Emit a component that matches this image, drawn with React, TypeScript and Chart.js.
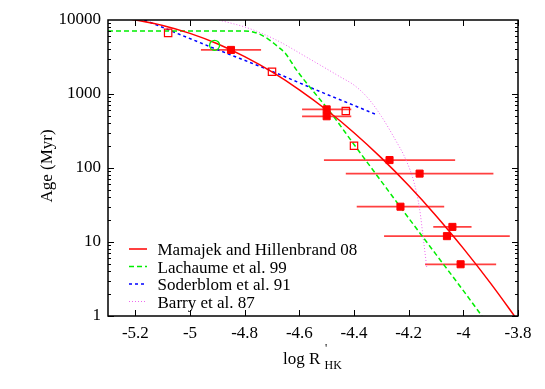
import React, { useEffect, useRef } from "react";
import { Chart, registerables } from "chart.js";

Chart.register(...registerables);

const FONT_FAMILY = '"Liberation Serif", "Times New Roman", Times, serif';

// Axis ticks
const xTickValues = [-5.2, -5.0, -4.8, -4.6, -4.4, -4.2, -4.0, -3.8];
const yTickValues = [1, 10, 100, 1000, 10000];

// Mamajek and Hillenbrand 08 relation
const mamajekLogR = [-5.3, -5.2, -5.1, -5.0, -4.9, -4.8, -4.7, -4.6, -4.5, -4.4, -4.3, -4.2, -4.1, -4.0, -3.9, -3.8];
const mamajekAge = [11500, 10000, 8440, 6600, 4780, 3200, 1990, 1140, 608, 300, 137, 58, 22.7, 8.2, 2.76, 0.86];

// Lachaume et al. 99
const lachaumeLogR = [-5.3, -4.8, -4.77, -4.74, -4.71, -4.68, -4.65, -4.61, -4.55, -4.49, -4.4, -4.3, -4.2, -4.1, -4.0, -3.932];
const lachaumeAge = [7100, 7100, 6900, 6300, 5400, 4400, 3500, 2100, 1100, 590, 208, 66, 21, 6.8, 2.2, 1];

// Soderblom et al. 91
const soderblomLogR = [-5.167, -4.894, -4.71, -4.527, -4.314];
const soderblomAge = [10000, 3900, 2100, 1090, 520];

// Barry et al. 87
const barryLogR = [-4.894, -4.784, -4.686, -4.564, -4.45, -4.40, -4.35, -4.30, -4.25, -4.21, -4.18, -4.16, -4.145, -4.134];
const barryAge = [10000, 7700, 5400, 3000, 1700, 1320, 890, 500, 245, 129, 63, 28, 10, 4.6];

// Filled squares with horizontal error bars
const filledLogR = [-4.85, -4.5, -4.5, -4.27, -4.16, -4.23, -4.04, -4.06, -4.01];
const filledAge = [3940, 620, 500, 128, 84, 30, 16, 12, 5];
const filledErr = [0.11, 0.09, 0.09, 0.24, 0.27, 0.16, 0.07, 0.23, 0.13];

// Open squares
const openLogR = [-5.08, -4.70, -4.43, -4.40];
const openAge = [6700, 2000, 590, 200];

// Open circle
const circleLogR = [-4.91];
const circleAge = [4550];

const legendLabels = ["Mamajek and Hillenbrand 08", "Lachaume et al. 99", "Soderblom et al. 91", "Barry et al. 87"];

const RED = "#ff0000";
const GREEN = "#00ee00";
const BLUE = "#0000ff";
const PINK = "#ee66ee";

const lineStyles = [
  { color: RED, dash: [] as number[], width: 1.5 },
  { color: GREEN, dash: [5, 3], width: 1.5 },
  { color: BLUE, dash: [3, 3], width: 1.5 },
  { color: PINK, dash: [1, 2], width: 1 },
];

const pts = (xs: number[], ys: number[]) => xs.map((x, i) => ({ x, y: ys[i] }));

export default function App() {
  const ref = useRef<HTMLCanvasElement>(null);

  useEffect(() => {
    document.body.style.margin = "0";
    const canvas = ref.current!;

    const errorBars = {
      id: "errorBars",
      beforeDatasetsDraw(chart: any) {
        const { ctx, chartArea, scales } = chart;
        ctx.save();
        ctx.beginPath();
        ctx.rect(chartArea.left, chartArea.top, chartArea.right - chartArea.left, chartArea.bottom - chartArea.top);
        ctx.clip();
        ctx.strokeStyle = "rgba(255,30,30,0.85)";
        ctx.lineWidth = 1.7;
        filledLogR.forEach((x, i) => {
          const y = scales.y.getPixelForValue(filledAge[i]);
          const x0 = scales.x.getPixelForValue(x - filledErr[i]);
          const x1 = scales.x.getPixelForValue(x + filledErr[i]);
          ctx.beginPath();
          ctx.moveTo(x0, y);
          ctx.lineTo(x1, y);
          ctx.stroke();
        });
        ctx.restore();
      },
    };

    const frame = {
      id: "frame",
      afterDatasetsDraw(chart: any) {
        const { ctx, chartArea, scales } = chart;
        const { left, right, top, bottom } = chartArea;
        ctx.save();
        ctx.strokeStyle = "#000";
        ctx.lineWidth = 1;
        ctx.beginPath();
        xTickValues.forEach((v) => {
          const px = Math.round(scales.x.getPixelForValue(v)) + 0.5;
          ctx.moveTo(px, bottom);
          ctx.lineTo(px, bottom - 6);
          ctx.moveTo(px, top);
          ctx.lineTo(px, top + 6);
        });
        for (let d = 1; d < 10000; d *= 10) {
          for (let m = 1; m <= 9; m++) {
            const v = d * m;
            const py = Math.round(scales.y.getPixelForValue(v)) + 0.5;
            const len = m === 1 ? 6 : 3;
            ctx.moveTo(left, py);
            ctx.lineTo(left + len, py);
            ctx.moveTo(right, py);
            ctx.lineTo(right - len, py);
          }
        }
        ctx.stroke();
        ctx.lineWidth = 1.5;
        ctx.strokeRect(left, top, right - left, bottom - top);
        ctx.restore();
      },
    };

    const overlay = {
      id: "overlay",
      afterDraw(chart: any) {
        const { ctx } = chart;
        ctx.save();
        // legend
        const rowY = [249, 266.5, 284, 301.5];
        legendLabels.forEach((label, i) => {
          const st = lineStyles[i];
          ctx.strokeStyle = st.color;
          ctx.lineWidth = st.width;
          ctx.setLineDash(st.dash);
          ctx.beginPath();
          ctx.moveTo(129, rowY[i]);
          ctx.lineTo(147, rowY[i]);
          ctx.stroke();
          ctx.setLineDash([]);
          ctx.fillStyle = "#000";
          ctx.font = `17px ${FONT_FAMILY}`;
          ctx.textAlign = "left";
          ctx.textBaseline = "alphabetic";
          ctx.fillText(label, 157.5, rowY[i] + 6);
        });
        // x axis title
        ctx.fillStyle = "#000";
        ctx.font = `17px ${FONT_FAMILY}`;
        ctx.textAlign = "left";
        ctx.textBaseline = "alphabetic";
        ctx.fillText("log R", 283, 363.5);
        ctx.font = `12px ${FONT_FAMILY}`;
        ctx.fillText("'", 325, 352);
        ctx.fillText("HK", 324.5, 368.5);
        // y axis title
        ctx.translate(48, 166);
        ctx.rotate(-Math.PI / 2);
        ctx.font = `17px ${FONT_FAMILY}`;
        ctx.textAlign = "center";
        ctx.textBaseline = "middle";
        ctx.fillText("Age (Myr)", 0, 0);
        ctx.restore();
      },
    };

    const lineDs = (label: string, xs: number[], ys: number[], st: any, order: number) => ({
      label,
      data: pts(xs, ys),
      showLine: true,
      borderColor: st.color,
      backgroundColor: st.color,
      borderWidth: st.width,
      borderDash: st.dash,
      pointRadius: 0,
      pointHoverRadius: 0,
      cubicInterpolationMode: "monotone",
      fill: false,
      order,
    });

    const chart = new Chart(canvas, {
      type: "scatter",
      data: {
        datasets: [
          {
            label: "filled",
            data: pts(filledLogR, filledAge),
            pointStyle: "rect",
            pointRadius: 5,
            backgroundColor: RED,
            borderColor: RED,
            borderWidth: 1,
            order: 0,
          },
          {
            label: "open",
            data: pts(openLogR, openAge),
            pointStyle: "rect",
            pointRadius: 5.2,
            backgroundColor: "rgba(255,255,255,0)",
            borderColor: RED,
            borderWidth: 1.2,
            order: 0,
          },
          {
            label: "circle",
            data: pts(circleLogR, circleAge),
            pointStyle: "circle",
            pointRadius: 5,
            backgroundColor: "rgba(255,255,255,0)",
            borderColor: GREEN,
            borderWidth: 1.3,
            order: 0,
          },
          lineDs(legendLabels[0], mamajekLogR, mamajekAge, lineStyles[0], 1),
          lineDs(legendLabels[1], lachaumeLogR, lachaumeAge, lineStyles[1], 2),
          lineDs(legendLabels[2], soderblomLogR, soderblomAge, lineStyles[2], 3),
          lineDs(legendLabels[3], barryLogR, barryAge, lineStyles[3], 4),
        ] as any,
      },
      options: {
        responsive: false,
        animation: false,
        devicePixelRatio: 1,
        layout: { padding: { left: 0, top: 20, right: 27, bottom: 0 } },
        plugins: { legend: { display: false }, tooltip: { enabled: false }, title: { display: false } },
        scales: {
          x: {
            type: "linear",
            min: -5.3,
            max: -3.8,
            grid: { display: false, drawTicks: false },
            border: { display: false },
            afterBuildTicks: (scale: any) => {
              scale.ticks = xTickValues.map((v) => ({ value: v }));
            },
            afterFit: (scale: any) => {
              scale.height = 73;
            },
            ticks: {
              padding: 7,
              color: "#000",
              font: { family: FONT_FAMILY, size: 17 },
              maxRotation: 0,
              autoSkip: false,
              callback: (v: any) => String(Math.round(Number(v) * 10) / 10),
            },
          },
          y: {
            type: "logarithmic",
            min: 1,
            max: 10000,
            grid: { display: false, drawTicks: false },
            border: { display: false },
            afterBuildTicks: (scale: any) => {
              scale.ticks = yTickValues.map((v) => ({ value: v, major: true }));
            },
            afterFit: (scale: any) => {
              scale.width = 108;
            },
            ticks: {
              padding: 7,
              color: "#000",
              font: { family: FONT_FAMILY, size: 17 },
              autoSkip: false,
              callback: (v: any) => String(v),
            },
          },
        },
      } as any,
      plugins: [errorBars, frame, overlay],
    });

    let alive = true;
    const fonts: any = (document as any).fonts;
    if (fonts && fonts.load) {
      Promise.all([
        fonts.load(`17px "Liberation Serif"`),
        fonts.load(`12px "Liberation Serif"`),
      ])
        .then(() => {
          if (alive) chart.update();
        })
        .catch(() => {});
    }

    return () => {
      alive = false;
      chart.destroy();
    };
  }, []);

  return (
    <div style={{ position: "absolute", left: 0, top: 0, width: 545, height: 389 }}>
      <canvas ref={ref} width={545} height={389} style={{ width: 545, height: 389, display: "block" }} />
    </div>
  );
}
